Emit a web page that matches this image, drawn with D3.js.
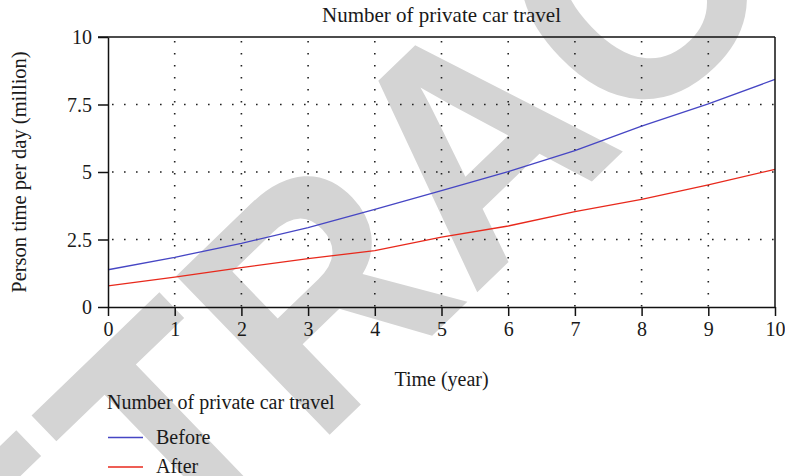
<!DOCTYPE html>
<html>
<head>
<meta charset="utf-8">
<script src="https://cdn.jsdelivr.net/npm/d3@7"></script>
<style>
  body { margin: 0; background: #fff; }
  svg { display: block; }
  text { font-family: "Liberation Serif", "Times New Roman", serif; fill: #1a1a1a; }
</style>
</head>
<body>
<script>
// Yearly values (million person-times per day)
const years = [0, 1, 2, 3, 4, 5, 6, 7, 8, 9, 10];
const before = [1.38, 1.84, 2.36, 2.94, 3.62, 4.31, 5.01, 5.79, 6.70, 7.52, 8.43];
const after = [0.78, 1.11, 1.46, 1.79, 2.09, 2.59, 3.00, 3.53, 3.99, 4.52, 5.10];

const xTicks = [0, 1, 2, 3, 4, 5, 6, 7, 8, 9, 10];
const yTicks = [0, 2.5, 5, 7.5, 10];
const yTickLabels = ["0", "2.5", "5", "7.5", "10"];
const seriesNames = ["Before", "After"];
const seriesColors = ["#4646c4", "#e8291c"];

const chartTitle = "Number of private car travel";
const xTitle = "Time (year)";
const yTitle = "Person time per day (million)";
const legendTitle = "Number of private car travel";
const stampText = "RETRACTED";

const W = 785, H = 476;
const margin = { left: 108, right: 10, top: 37, bottom: 169 };
const x0 = margin.left, x1 = W - margin.right;
const y0 = H - margin.bottom, y1 = margin.top;

const svg = d3.select("body").append("svg")
  .attr("width", W).attr("height", H);

// Diagonal stamp behind everything
svg.append("text")
  .attr("transform", "translate(-119,868) rotate(-44) scale(0.94,1)")
  .style("font-family", "'Liberation Sans', Arial, sans-serif")
  .style("font-weight", "bold")
  .style("font-size", "321px")
  .style("fill", "#d4d4d4")
  .text(stampText);

const x = d3.scaleLinear().domain([0, 10]).range([x0, x1]);
const y = d3.scaleLinear().domain([0, 10]).range([y0, y1]);

// Dotted grid
const grid = svg.append("g")
  .attr("stroke", "#222")
  .attr("stroke-width", 1.6)
  .attr("stroke-dasharray", "1.6,10.4");
grid.selectAll("line.v")
  .data(xTicks.filter(d => d > 0 && d < 10))
  .join("line")
  .attr("x1", d => x(d)).attr("x2", d => x(d))
  .attr("y1", y(10) + 4).attr("y2", y(0));
grid.selectAll("line.h")
  .data(yTicks.filter(d => d > 0 && d < 10))
  .join("line")
  .attr("x1", x(0) + 4).attr("x2", x(10))
  .attr("y1", d => y(d)).attr("y2", d => y(d));

// Series lines
const line = d3.line().x((d, i) => x(years[i])).y(d => y(d));
[before, after].forEach((s, k) => {
  svg.append("path")
    .datum(s)
    .attr("fill", "none")
    .attr("stroke", seriesColors[k])
    .attr("stroke-width", 1.3)
    .attr("d", line);
});

// Axes
const xAxis = d3.axisBottom(x).tickValues(xTicks).tickFormat(d3.format("d"))
  .tickSize(9).tickSizeOuter(0).tickPadding(6);
const yAxis = d3.axisLeft(y).tickValues(yTicks).tickFormat((d, i) => yTickLabels[i])
  .tickSize(10).tickSizeOuter(0).tickPadding(6);

const gx = svg.append("g").attr("transform", `translate(0,${y0})`).call(xAxis);
const gy = svg.append("g").attr("transform", `translate(${x0},0)`).call(yAxis);
[gx, gy].forEach(g => {
  g.selectAll("path, line").attr("stroke", "#111").attr("stroke-width", 1.5);
  g.selectAll("text")
    .style("font-family", "'Liberation Serif', 'Times New Roman', serif")
    .style("font-size", "20px")
    .attr("fill", "#1a1a1a");
});
gx.selectAll("text").attr("dy", "0.71em");
gy.selectAll("text").attr("dy", "0.34em");

// Top and right frame
svg.append("line").attr("x1", x0 - 10).attr("x2", x1)
  .attr("y1", y1).attr("y2", y1).attr("stroke", "#111").attr("stroke-width", 1.5);
svg.append("line").attr("x1", x1).attr("x2", x1)
  .attr("y1", y1).attr("y2", y0).attr("stroke", "#111").attr("stroke-width", 1.5);

// Titles
svg.append("text")
  .attr("x", (x0 + x1) / 2).attr("y", 22)
  .attr("text-anchor", "middle")
  .style("font-size", "21px")
  .text(chartTitle);

svg.append("text")
  .attr("x", (x0 + x1) / 2).attr("y", 386)
  .attr("text-anchor", "middle")
  .style("font-size", "20px")
  .text(xTitle);

svg.append("text")
  .attr("transform", `translate(26,${(y0 + y1) / 2}) rotate(-90)`)
  .attr("text-anchor", "middle")
  .style("font-size", "20.5px")
  .text(yTitle);

// Legend
const lg = svg.append("g").attr("transform", "translate(107,0)");
lg.append("text").attr("x", 0).attr("y", 409)
  .style("font-size", "20px").text(legendTitle);
const rows = lg.selectAll("g.item")
  .data(seriesNames)
  .join("g")
  .attr("transform", (d, i) => `translate(0,${437.5 + i * 29.5})`);
rows.append("line")
  .attr("x1", 1).attr("x2", 36)
  .attr("y1", 0).attr("y2", 0)
  .attr("stroke", (d, i) => seriesColors[i])
  .attr("stroke-width", 1.3);
rows.append("text")
  .attr("x", 49).attr("y", 6)
  .style("font-size", "20px")
  .text(d => d);
</script>
</body>
</html>
